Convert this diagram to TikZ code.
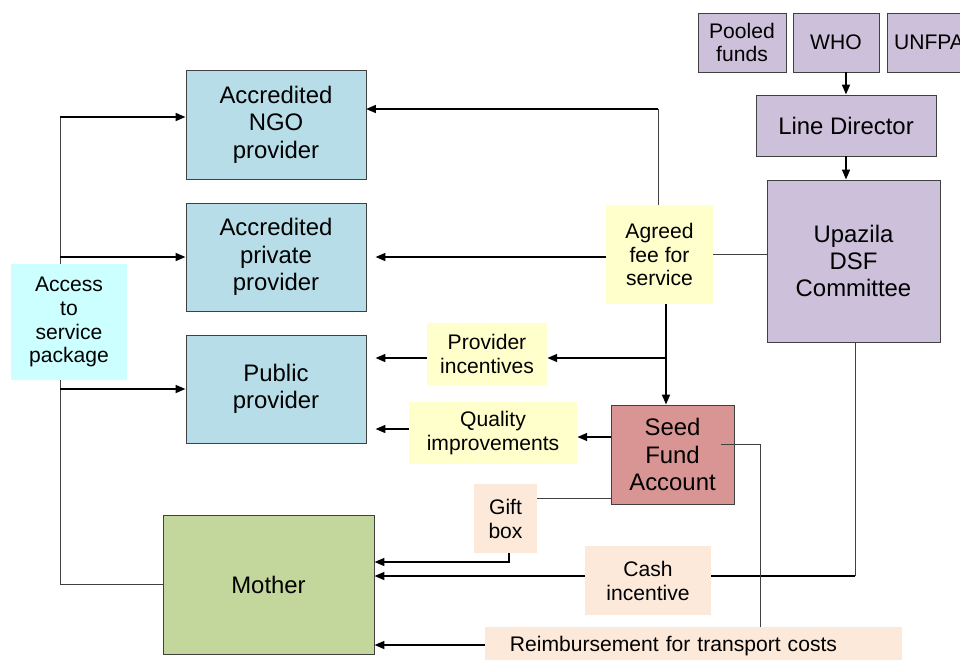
\documentclass[tikz,border=0pt]{standalone}
\usepackage{fontspec}
\setmainfont{Liberation Sans}
\usetikzlibrary{arrows.meta}

\definecolor{lilac}{HTML}{CCC0DA}
\definecolor{provblue}{HTML}{B7DEE8}
\definecolor{mothergreen}{HTML}{C3D69B}
\definecolor{seedred}{HTML}{D99594}
\definecolor{noteyellow}{HTML}{FFFFCC}
\definecolor{notepeach}{HTML}{FDE9D9}
\definecolor{accesscyan}{HTML}{CCFFFF}

\begin{document}
\begin{tikzpicture}[x=0.025cm, y=-0.025cm,
    >={Triangle[length=7pt,width=5.5pt]},
    big/.style={font=\fontsize{17}{19.5}\selectfont},
    small/.style={font=\fontsize{15}{17}\selectfont},
    box/.style={draw=black!75, line width=0.6pt, align=center, inner sep=0pt, big},
    tag/.style={align=center, inner sep=0pt, small},
    size/.style 2 args={minimum width=#1, minimum height=#2},
    flow/.style={->, line width=1.4pt},
    bar/.style={line width=1.4pt},
    link/.style={line width=0.7pt, black!75}]
    \useasboundingbox (0,0) rectangle (960,659);

    % Geldgeber und Ausschuss
    \node[box, small, fill=lilac, size={2.2cm}{1.475cm}] (pooled) at (742,42.5) {Pooled\\funds};
    \node[box, small, fill=lilac, size={2.15cm}{1.475cm}] (who) at (836,42.5) {WHO};
    \node[box, small, fill=lilac, size={2.1cm}{1.475cm}] (unfpa) at (929,42.5) {UNFPA};
    \node[box, fill=lilac, size={4.5cm}{1.525cm}] (linedir) at (846,125.5) {Line Director};
    \node[box, fill=lilac, size={4.325cm}{4.05cm}] (upazila) at (853.5,261) {Upazila\\DSF\\Committee};
    \node[box, fill=seedred, size={3.075cm}{2.475cm}] (seed) at (672.5,454.5) {Seed\\Fund\\Account};

    % Anbieter und Mutter
    \node[box, fill=provblue, size={4.5cm}{2.725cm}] (ngo) at (276,124.5) {Accredited\\NGO\\provider};
    \node[box, fill=provblue, size={4.5cm}{2.7cm}] (private) at (276,257) {Accredited\\private\\provider};
    \node[box, fill=provblue, size={4.5cm}{2.7cm}] (public) at (276,389) {Public\\provider};
    \node[box, fill=mothergreen, size={5.275cm}{3.475cm}] (mother) at (268.5,584.5) {Mother};

    % Zahlungsarten
    \node[tag, fill=noteyellow, size={2.675cm}{2.475cm}] (agreed) at (659.5,254.5) {Agreed\\fee for\\service};
    \node[tag, fill=noteyellow, size={3cm}{1.55cm}] (provinc) at (487,354) {Provider\\incentives};
    \node[tag, fill=noteyellow, size={4.2cm}{1.55cm}] (quality) at (493,433) {Quality\\improvements};
    \node[tag, fill=notepeach, size={1.575cm}{1.725cm}] (gift) at (505.5,518.5) {Gift\\box};
    \node[tag, fill=notepeach, size={3.15cm}{1.725cm}] (cash) at (648,580.5) {Cash\\incentive};
    \node[tag, fill=notepeach, minimum height=0.95cm, text width=9.175cm, inner xsep=0.625cm, align=left]
        (reimb) at (693.5,646) {Reimbursement for transport costs};

    % Hilfspunkte fuer die Leitungen
    \coordinate (trunk) at (666,358);
    \coordinate (ngoin) at (366,109);
    \coordinate (laneq) at (0,437);
    \coordinate (lanep) at (0,429);
    \coordinate (lanegift) at (0,498);
    \coordinate (lanegm) at (0,562);
    \coordinate (lanecash) at (0,576);
    \coordinate (seedtap) at (721,444);
    \coordinate (reimbx) at (760,0);
    \coordinate (spine) at (60,0);

    % Oben rechts
    \draw[flow] (who.south -| linedir.north) -- (linedir.north);
    \draw[flow] (linedir.south) -- (linedir.south |- upazila.north);
    \draw[link] (agreed.east) -- (agreed.east -| upazila.west);

    % Honorar an die Anbieter
    \draw[flow, shorten >=0.225cm] (agreed.west |- private.east) -- (private.east);
    \draw[link] (agreed.north -| 658,0) -- (ngoin -| 658,0);
    \draw[flow] (ngoin -| 658,0) -- (ngoin);
    \draw[flow] (trunk |- agreed.south) -- (trunk |- seed.north);
    \draw[flow] (trunk) -- (trunk -| provinc.east);
    \draw[flow, shorten >=0.225cm] (provinc.west |- trunk) -- (public.east |- trunk);
    \draw[flow] (seed.west |- laneq) -- (quality.east |- laneq);
    \draw[flow, shorten >=0.225cm] (quality.west |- lanep) -- (public.east |- lanep);

    % Leistungen an die Mutter
    \draw[link] (seed.west |- lanegift) -- (gift.east |- lanegift);
    \draw[flow] (gift.south -| 509,0) |- (mother.east |- lanegm);
    \draw[link] (upazila.south -| 855,0) -- (lanecash -| 855,0);
    \draw[bar] (lanecash -| 855,0) -- (cash.east |- lanecash);
    \draw[flow] (cash.west |- lanecash) -- (mother.east |- lanecash);
    \draw[link] (seedtap) -| (reimbx |- reimb.north);
    \draw[flow] (reimb.west |- 0,645) -- (mother.east |- 0,645);

    % Zugang zum Leistungspaket
    \draw[link] (spine |- ngoin) ++(0,8) -- (spine |- mother.west) -- (mother.west);
    \draw[flow] ([yshift=0.1875cm]spine |- ngo.west) -- ([yshift=0.1875cm]ngo.west);
    \draw[flow] (spine |- private.west) -- (private.west);
    \draw[flow] (spine |- public.west) -- (public.west);
    \node[tag, fill=accesscyan, size={2.9cm}{2.9cm}] (access) at (69,322) {Access\\to\\service\\package};
\end{tikzpicture}
\end{document}
